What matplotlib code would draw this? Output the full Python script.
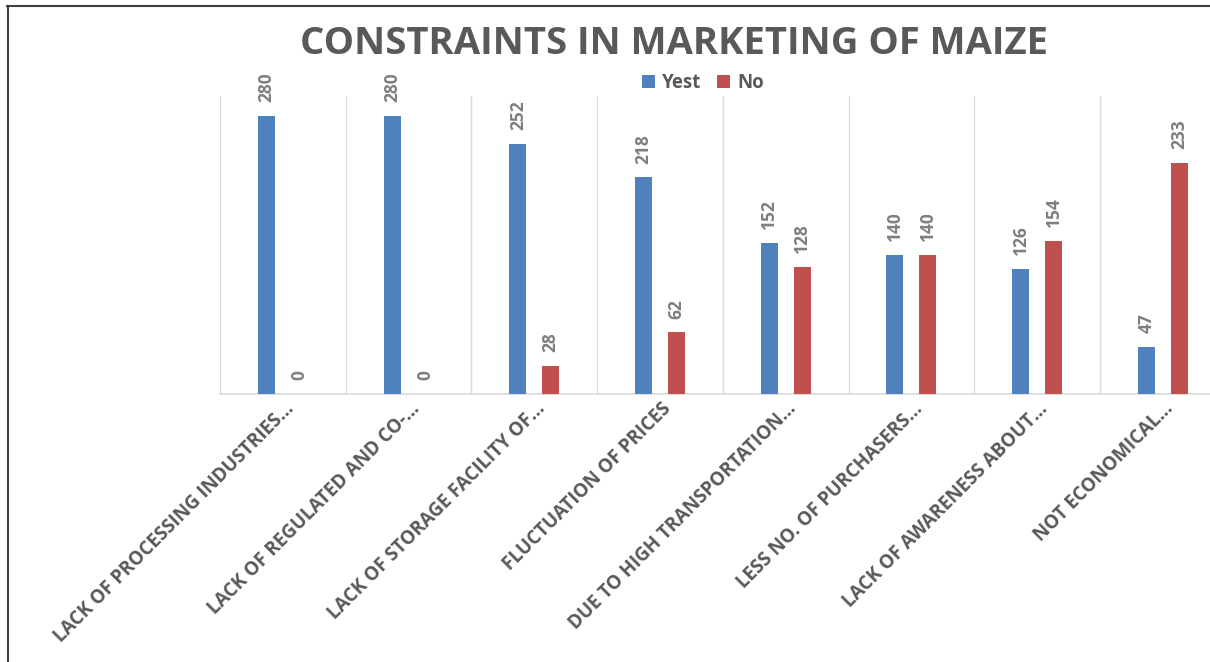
import matplotlib
matplotlib.use("Agg")
import matplotlib.pyplot as plt
import matplotlib.transforms as mtransforms
from matplotlib.lines import Line2D
from matplotlib.patches import Patch
import numpy as np

# constraint categories (as shown on the axis) and respondent counts
categories = [
    "LACK OF PROCESSING INDUSTRIES…",
    "LACK OF REGULATED AND CO-…",
    "LACK OF STORAGE FACILITY OF…",
    "FLUCTUATION OF PRICES",
    "DUE TO HIGH TRANSPORTATION…",
    "LESS NO. OF PURCHASERS…",
    "LACK OF AWARENESS ABOUT…",
    "NOT ECONOMICAL…",
]
yes_counts = [280, 280, 252, 218, 152, 140, 126, 47]
no_counts = [0, 0, 28, 62, 128, 140, 154, 233]
series_names = ["Yest", "No"]

BLUE = "#4F81BD"
RED = "#C0504D"
DARK = "#595959"
GRID = "#D9D9D9"

plt.rcParams["font.family"] = ["Open Sans", "DejaVu Sans"]

W, H = 1210, 662
fig = plt.figure(figsize=(W / 100, H / 100), dpi=100)
fig.patch.set_facecolor("white")

# plot area runs a little past the right edge of the image
left, right, top, bottom = 220, 1225.6, 96, 394
ax = fig.add_axes([left / W, 1 - bottom / H, (right - left) / W, (bottom - top) / H])

x = np.arange(len(categories))
bw = 0.135
off = 0.131
ax.bar(x - off, yes_counts, bw, color=BLUE, zorder=3)
ax.bar(x + off, no_counts, bw, color=RED, zorder=3)

ax.set_xlim(-0.5, len(categories) - 0.5)
ax.set_ylim(0, 300)

# category separators
for b in np.arange(-0.5, len(categories), 1.0):
    ax.axvline(b, color=GRID, lw=1, zorder=1)

for s in ["top", "right", "left"]:
    ax.spines[s].set_visible(False)
ax.spines["bottom"].set_color(GRID)
ax.spines["bottom"].set_linewidth(1.2)
ax.set_xticks([])
ax.set_yticks([])

# value labels above the bars
for xs, vals in [(x - off, yes_counts), (x + off, no_counts)]:
    for xi, v in zip(xs, vals):
        ax.annotate(str(v), (xi, v), xytext=(0, 10), textcoords="offset points",
                    rotation=90, ha="center", va="bottom", fontsize=12.5,
                    fontweight="bold", color="#7F7F7F")

# slanted category labels
lab_tr = mtransforms.blended_transform_factory(ax.transData, ax.transAxes) + \
    mtransforms.ScaledTranslation(8 / 100, -12 / 100, fig.dpi_scale_trans)
for xi, lab in zip(x, categories):
    ax.text(xi, 0, lab, transform=lab_tr, rotation=45, rotation_mode="anchor",
            ha="right", va="center", fontsize=13.5, fontweight="bold", color=DARK)

fig.text(674 / W, 1 - 44 / H, "CONSTRAINTS IN MARKETING OF MAIZE", ha="center",
         va="center", fontsize=27.5, fontweight="bold", color=DARK)

handles = [Patch(facecolor=BLUE), Patch(facecolor=RED)]
fig.legend(handles, series_names, loc="center", bbox_to_anchor=(703 / W, 1 - 83 / H),
           ncol=2, frameon=False, handlelength=0.7, handleheight=0.7,
           handletextpad=0.4, columnspacing=0.8,
           prop={"size": 13.5, "weight": "bold"}, labelcolor=DARK)

# outer frame (top and left edges)
fig.add_artist(Line2D([7 / W, 1], [1 - 5.5 / H, 1 - 5.5 / H], color="#3F3F3F", lw=1.5,
                      transform=fig.transFigure))
fig.add_artist(Line2D([7.5 / W, 7.5 / W], [0, 1 - 5.5 / H], color="#3F3F3F", lw=1.5,
                      transform=fig.transFigure))

fig.savefig("out.png", dpi=100)
